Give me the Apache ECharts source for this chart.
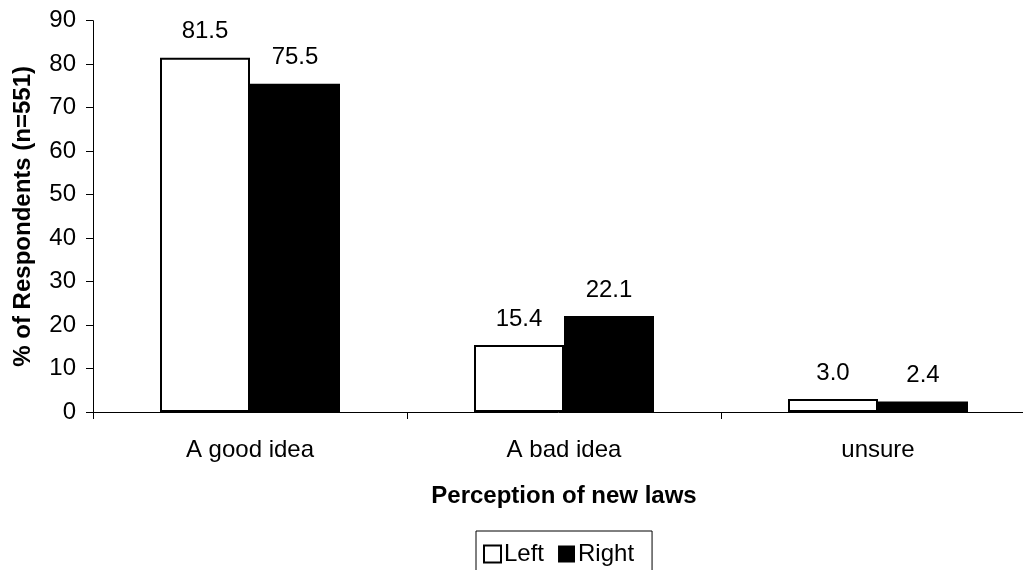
<!DOCTYPE html>
<html>
<head>
<meta charset="utf-8">
<script src="https://cdn.jsdelivr.net/npm/echarts@6/dist/echarts.min.js"></script>
<style>
html,body{margin:0;padding:0;background:#fff;}
#chart{width:1023px;height:570px;}
</style>
</head>
<body>
<div id="chart"></div>
<script>
const categories = ['A good idea', 'A bad idea', 'unsure'];
const leftValues = [81.5, 15.4, 3.0];
const rightValues = [75.5, 22.1, 2.4];
const seriesNames = ['Left', 'Right'];
const yAxisTitle = '% of Respondents (n=551)';
const xAxisTitle = 'Perception of new laws';

const FONT = '"Liberation Sans", Arial, sans-serif';
const FS = 24;
const chart = echarts.init(document.getElementById('chart'));
const labelCfg = {
  show: true, position: 'top', distance: 14,
  fontFamily: FONT, fontSize: FS, color: '#000',
  formatter: p => Number(p.value).toFixed(1)
};
chart.setOption({
  animation: false,
  backgroundColor: '#fff',
  textStyle: { fontFamily: FONT },
  grid: { left: 93, top: 20.7, width: 942, height: 391.3, containLabel: false, outerBoundsMode: 'none' },
  legend: {
    data: seriesNames,
    left: 476, top: 531,
    orient: 'horizontal',
    padding: [11, 18, 20, 7],
    itemWidth: 17, itemHeight: 17, itemGap: 14,
    borderColor: '#000', borderWidth: 1,
    textStyle: { fontFamily: FONT, fontSize: FS, color: '#000', padding: [0, 0, 0, -2] },
    icon: 'rect'
  },
  xAxis: {
    type: 'category',
    data: categories,
    name: xAxisTitle,
    nameLocation: 'middle',
    nameGap: 72,
    nameTextStyle: { fontFamily: FONT, fontSize: FS, fontWeight: 'bold', color: '#000' },
    axisLine: { show: true, lineStyle: { color: '#000', width: 1 } },
    axisTick: { show: true, length: 7, alignWithLabel: false, lineStyle: { color: '#000' } },
    axisLabel: { fontFamily: FONT, fontSize: FS, color: '#000', margin: 26 },
    splitLine: { show: false }
  },
  yAxis: {
    type: 'value',
    min: 0, max: 90, interval: 10,
    name: yAxisTitle,
    nameLocation: 'middle',
    nameGap: 58,
    nameTextStyle: { fontFamily: FONT, fontSize: FS, fontWeight: 'bold', color: '#000' },
    axisLine: { show: true, lineStyle: { color: '#000', width: 1 } },
    axisTick: { show: true, length: 7, lineStyle: { color: '#000' } },
    axisLabel: { fontFamily: FONT, fontSize: FS, color: '#000', margin: 17 },
    splitLine: { show: false }
  },
  series: [
    {
      name: seriesNames[0], type: 'bar', data: leftValues,
      barWidth: 90, barGap: '0%',
      itemStyle: { color: '#fff', borderColor: '#000', borderWidth: 2 },
      label: labelCfg
    },
    {
      name: seriesNames[1], type: 'bar', data: rightValues,
      barWidth: 90, barGap: '0%',
      itemStyle: { color: '#000', borderColor: '#000', borderWidth: 0 },
      label: labelCfg
    }
  ]
});
</script>
</body>
</html>
